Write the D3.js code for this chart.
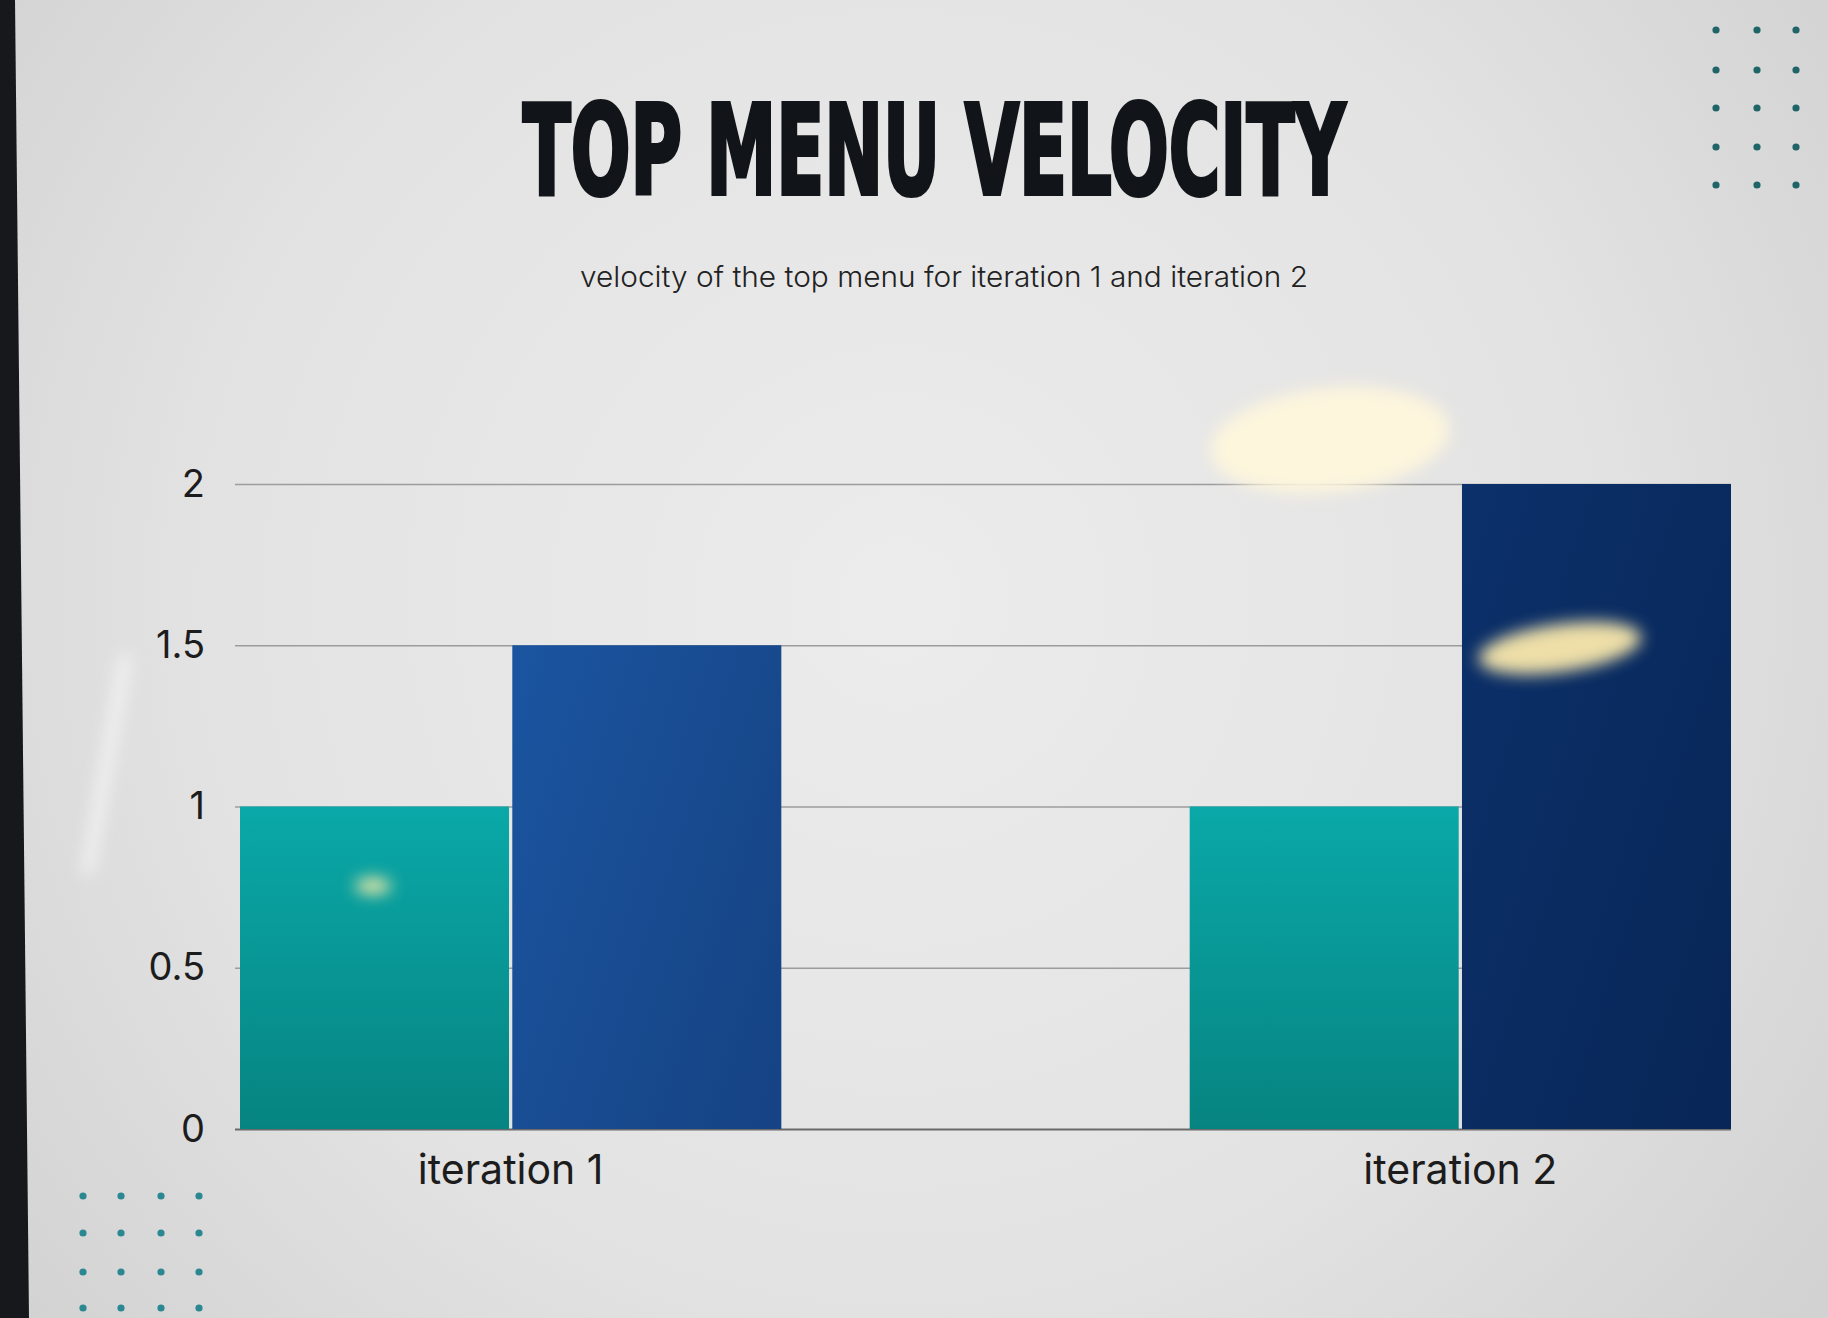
<!DOCTYPE html>
<html>
<head>
<meta charset="utf-8">
<script src="https://cdn.jsdelivr.net/npm/d3@7"></script>
<style>
  html, body { margin: 0; padding: 0; background: #e0e0e0; }
  svg { display: block; }
</style>
</head>
<body>
<svg id="chart" width="1828" height="1318"></svg>
<script>
// ---- data ----
const titleText = "TOP MENU VELOCITY";
const subtitleText = "velocity of the top menu for iteration 1 and iteration 2";
const categories = ["iteration 1", "iteration 2"];
const seriesNames = ["Series 1", "Series 2"];
const series1 = [1, 1];
const series2 = [1.5, 2];
const yTicks = [0, 0.5, 1, 1.5, 2];
const yTickLabels = ["0", "0.5", "1", "1.5", "2"];

const W = 1828, H = 1318;
const svg = d3.select("#chart");
const defs = svg.append("defs");

// background
const bg = defs.append("radialGradient").attr("id", "bg")
  .attr("gradientUnits", "userSpaceOnUse")
  .attr("cx", 900).attr("cy", 600).attr("r", 1150);
bg.append("stop").attr("offset", 0).attr("stop-color", "#ececec");
bg.append("stop").attr("offset", 0.6).attr("stop-color", "#e3e3e3");
bg.append("stop").attr("offset", 1).attr("stop-color", "#d2d2d2");
svg.append("rect").attr("width", W).attr("height", H).attr("fill", "url(#bg)");

// dark edge of the photographed screen
svg.append("polygon").attr("points", "0,0 15,0 29,1318 0,1318").attr("fill", "#16181b");

// gradients for series
const tealG = defs.append("linearGradient").attr("id", "teal")
  .attr("gradientUnits", "userSpaceOnUse").attr("x1", 0).attr("y1", 800).attr("x2", 0).attr("y2", 1130);
tealG.append("stop").attr("offset", 0).attr("stop-color", "#0aa9a9");
tealG.append("stop").attr("offset", 1).attr("stop-color", "#068481");
const blueG = defs.append("linearGradient").attr("id", "blue")
  .attr("gradientUnits", "userSpaceOnUse").attr("x1", 500).attr("y1", 600).attr("x2", 1731).attr("y2", 1000);
blueG.append("stop").attr("offset", 0).attr("stop-color", "#1b56a2");
blueG.append("stop").attr("offset", 0.25).attr("stop-color", "#17478a");
blueG.append("stop").attr("offset", 0.72).attr("stop-color", "#0b2f68");
blueG.append("stop").attr("offset", 1).attr("stop-color", "#082758");
const colors = ["url(#teal)", "url(#blue)"];

const blur = defs.append("filter").attr("id", "blur").attr("x", "-50%").attr("y", "-50%").attr("width", "200%").attr("height", "200%");
blur.append("feGaussianBlur").attr("stdDeviation", 8);

// title (condensed heavy look via horizontal scale)
svg.append("g").attr("transform", "translate(934,194) scale(0.625,1)")
  .append("text")
  .attr("x", 0).attr("y", 0)
  .attr("text-anchor", "middle")
  .attr("font-family", "'Liberation Sans Narrow', 'DejaVu Sans Condensed', sans-serif")
  .attr("font-weight", 700)
  .attr("font-size", 125)
  .attr("fill", "#111418")
  .attr("stroke", "#111418").attr("stroke-width", 4)
  .text(titleText);

// subtitle
svg.append("text")
  .attr("x", 944).attr("y", 287)
  .attr("text-anchor", "middle")
  .attr("font-family", "Inter, 'Open Sans', sans-serif")
  .attr("font-weight", 300)
  .attr("font-size", 29)
  .attr("fill", "#222")
  .attr("textLength", 728).attr("lengthAdjust", "spacingAndGlyphs")
  .text(subtitleText);

// scales
const x0 = d3.scaleBand().domain(categories).range([240, 1731]).paddingInner(0.43).paddingOuter(0);
const x1 = d3.scaleBand().domain(seriesNames).range([0, x0.bandwidth()]).paddingInner(0.012);
const y = d3.scaleLinear().domain([0, 2]).range([1129, 484]);

// y axis with gridlines
const yAxis = svg.append("g").attr("transform", "translate(235,0)")
  .call(d3.axisLeft(y).tickValues(yTicks).tickFormat((d, i) => yTickLabels[i])
    .tickSize(-(1731 - 235)).tickPadding(30));
yAxis.select(".domain").remove();
yAxis.selectAll(".tick line").attr("stroke", "#9c9c9c").attr("stroke-width", 1.6);
yAxis.selectAll(".tick line").filter(d => d === 0).attr("stroke", "#6a6a6a").attr("stroke-width", 2);
yAxis.selectAll(".tick text")
  .attr("font-family", "Inter, 'Open Sans', sans-serif")
  .attr("font-size", 38).attr("font-weight", 400).attr("fill", "#1c1c1c");

// bars (absolute x so the user-space gradients line up)
const bars = [];
categories.forEach((c, i) => {
  [series1[i], series2[i]].forEach((v, j) => bars.push({ cat: c, s: seriesNames[j], v, j }));
});
svg.append("g").selectAll("rect").data(bars).join("rect")
  .attr("x", d => x0(d.cat) + x1(d.s))
  .attr("y", d => y(d.v))
  .attr("width", x1.bandwidth())
  .attr("height", d => y(0) - y(d.v))
  .attr("fill", d => colors[d.j]);

// x axis labels
const xAxis = svg.append("g").attr("transform", "translate(0,1129)")
  .call(d3.axisBottom(x0).tickSize(0).tickPadding(26));
xAxis.select(".domain").remove();
xAxis.selectAll(".tick text")
  .attr("font-family", "Inter, 'Open Sans', sans-serif")
  .attr("font-size", 41).attr("font-weight", 400).attr("fill", "#1c1c1c");

// decorative dot grids
const trX = [1716, 1757, 1796], trY = [30, 70, 108, 147, 185];
const blX = [83, 121, 161, 199], blY = [1196, 1233, 1272, 1308];
const dots = [];
trY.forEach(yy => trX.forEach(xx => dots.push({ x: xx, y: yy, c: "#1f6568" })));
blY.forEach(yy => blX.forEach(xx => dots.push({ x: xx, y: yy, c: "#2b8792" })));
svg.append("g").selectAll("circle").data(dots).join("circle")
  .attr("cx", d => d.x).attr("cy", d => d.y).attr("r", 3.6).attr("fill", d => d.c);

// glare reflections in the photo
const glare = svg.append("g").attr("filter", "url(#blur)");
glare.append("ellipse").attr("cx", 1330).attr("cy", 440).attr("rx", 120).attr("ry", 52)
  .attr("transform", "rotate(-6 1330 440)").attr("fill", "#fdf5dc");
glare.append("ellipse").attr("cx", 1560).attr("cy", 648).attr("rx", 82).attr("ry", 24)
  .attr("transform", "rotate(-8 1560 648)").attr("fill", "#eedfa8");
glare.append("ellipse").attr("cx", 373).attr("cy", 886).attr("rx", 18).attr("ry", 8)
  .attr("fill", "#f0eaa8");
glare.append("line").attr("x1", 125).attr("y1", 660).attr("x2", 88).attr("y2", 870)
  .attr("stroke", "#f6f6f6").attr("stroke-width", 12).attr("stroke-linecap", "round").attr("opacity", 0.9);
</script>
</body>
</html>
